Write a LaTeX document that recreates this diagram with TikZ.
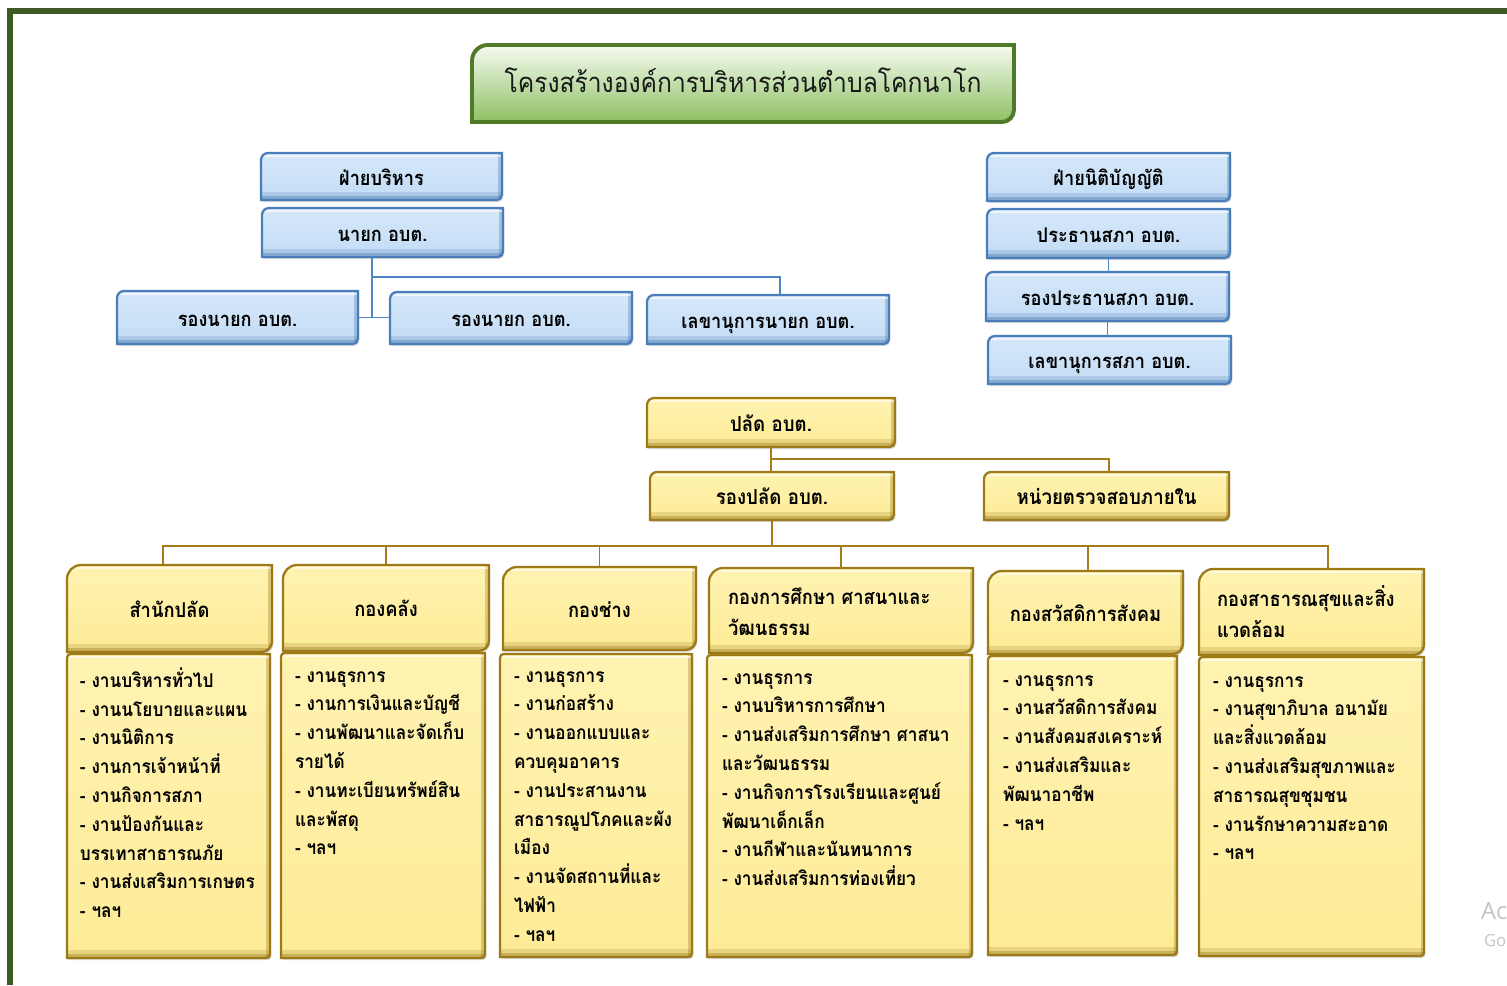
\documentclass[tikz,border=0pt]{standalone}
\usepackage{fontspec}
\newfontfamily\thaifont[Script=Thai, FakeStretch=0.9]{Loma}
\newfontfamily\wmfont{Open Sans}
\usetikzlibrary{backgrounds,shadows}
\definecolor{frameg}{HTML}{3D5A24}
\definecolor{titleborder}{HTML}{4F7A28}
\definecolor{titletop}{HTML}{F7FBF2}
\definecolor{titlebot}{HTML}{8DC063}
\definecolor{blueborder}{HTML}{4A7EBB}
\definecolor{bluetop}{HTML}{D6E8FA}
\definecolor{bluebot}{HTML}{C2DCF5}
\definecolor{bluedark}{HTML}{3A6EA8}
\definecolor{blueline}{HTML}{4F86C6}
\definecolor{yelborder}{HTML}{9C7A18}
\definecolor{yeltop}{HTML}{FFF3B2}
\definecolor{yelbot}{HTML}{FDEB96}
\definecolor{yeldark}{HTML}{8A6A10}
\definecolor{yelline}{HTML}{A47C1B}
\definecolor{wmgray}{HTML}{C4C4C4}
\newcommand\diagshape[4]{%
  \path[#2] (#1.south west) -- ([yshift=-#3]#1.north west)
    arc[start angle=180,end angle=90,radius=#3] -- (#1.north east)
    -- ([yshift=#4]#1.south east)
    arc[start angle=0,end angle=-90,radius=#4] -- cycle;}
\newcommand\fstrut{\rule{0pt}{10pt}}
\begin{document}
\begin{tikzpicture}[x=0.02cm,y=-0.02cm,
  every node/.style={inner sep=0pt, outer sep=0pt},
  sz/.style 2 args={minimum width={#1*0.02cm}, minimum height={#2*0.02cm}},
  lbl/.style={font=\thaifont\bfseries\fontsize{11.5}{14}\selectfont, text=black, text height=11.6pt, text depth=1.4pt},
  ylbl/.style={lbl, font=\thaifont\bfseries\fontsize{11.8}{14}\selectfont},
  hlbl/.style={lbl, font=\thaifont\bfseries\fontsize{11.6}{14}\selectfont},
  ttl/.style={font=\thaifont\fontsize{15.6}{18}\selectfont, text=black!90, text height=12pt, text depth=2pt},
  dtext/.style={font=\thaifont\bfseries\fontsize{10.9}{16.4}\selectfont, text=black, align=left, anchor=north west},
  htext/.style={font=\thaifont\bfseries\fontsize{11.6}{17.6}\selectfont, text=black, align=left, anchor=north west},
  shade/.style={drop shadow={opacity=0.3, shadow xshift=0.8pt, shadow yshift=-1.2pt}},
  bevel/.style={path picture={
    \fill[#1, opacity=0.45] (path picture bounding box.south west) rectangle ([yshift=2.5pt]path picture bounding box.south east);
    \fill[#1, opacity=0.18] ([yshift=2.5pt]path picture bounding box.south west) rectangle ([yshift=4.5pt]path picture bounding box.south east);
    \fill[#1, opacity=0.3] (path picture bounding box.south east) rectangle ([xshift=-2pt]path picture bounding box.north east);
    \fill[white, opacity=0.6] ([yshift=-1.4pt]path picture bounding box.north west) rectangle ([yshift=-2.4pt]path picture bounding box.north east);}},
  bshape/.style={draw=blueborder, line width=1.3pt, top color=bluetop, bottom color=bluebot, bevel=bluedark, shade},
  yshape/.style={draw=yelborder, line width=1.3pt, top color=yeltop, bottom color=yelbot, bevel=yeldark, shade},
  tshape/.style={draw=titleborder, line width=2.2pt, top color=titletop, bottom color=titlebot, shade},
  bline/.style={draw=blueline, line width=1.1pt},
  yline/.style={draw=yelline, line width=1.1pt},
  wm/.style={font=\wmfont, text=wmgray, anchor=west}
]
\useasboundingbox (0,0) rectangle (1507,985);
\fill[frameg] (6.5,8) rectangle (12.5,985);
\fill[frameg] (6.5,8) rectangle (1507,14);

% title
\node[ttl, sz={542}{77}] (title) at (743,83.5) {โครงสร้างองค์การบริหารส่วนตำบลโคกนาโก};

% executive (blue)
\node[lbl, sz={241}{47}] (bfai) at (381.5,176.5) {ฝ่ายบริหาร};
\node[lbl, sz={241}{49}] (bnayok) at (382.5,232.5) {นายก อบต.};
\node[lbl, sz={241}{53}] (brong1) at (237.5,317.5) {รองนายก อบต.};
\node[lbl, sz={242}{52}] (brong2) at (511,318) {รองนายก อบต.};
\node[lbl, sz={242}{49}] (blekha) at (768,319.5) {เลขานุการนายก อบต.};
% legislative (blue)
\node[lbl, sz={243}{48}] (bnitib) at (1108.5,177) {ฝ่ายนิติบัญญัติ};
\node[lbl, sz={243}{49}] (bprathan) at (1108.5,233.5) {ประธานสภา อบต.};
\node[lbl, sz={243}{49}] (brongpr) at (1107.5,296.5) {รองประธานสภา อบต.};
\node[lbl, sz={243}{48}] (blekhasapa) at (1109.5,360) {เลขานุการสภา อบต.};

% yellow top
\node[ylbl, sz={248}{49}] (ypalat) at (771,422.5) {ปลัด อบต.};
\node[ylbl, sz={244}{48}] (yrongpalat) at (772,496) {รองปลัด อบต.};
\node[ylbl, sz={245}{48}] (yaudit) at (1106.5,496) {หน่วยตรวจสอบภายใน};

% headers
\node[hlbl, sz={205}{87}] (h1) at (169.5,608.5) {สำนักปลัด};
\node[hlbl, sz={206}{86}] (h2) at (386,608) {กองคลัง};
\node[hlbl, sz={193}{83}] (h3) at (599.5,608.5) {กองช่าง};
\node[sz={264}{85}] (h4) at (841,610.5) {};
\node[hlbl, sz={195}{83}] (h5) at (1085.5,612.5) {กองสวัสดิการสังคม};
\node[sz={225}{86}] (h6) at (1311.5,612) {};
\node[htext] (h4t) at ([xshift=0.38cm,yshift=-0.37cm]h4.north west)
 {\fstrut กองการศึกษา ศาสนาและ\\วัฒนธรรม};
\node[htext] (h6t) at ([xshift=0.36cm,yshift=-0.33cm]h6.north west)
 {\fstrut กองสาธารณสุขและสิ่ง\\แวดล้อม};

% detail boxes
\node[sz={203}{304}] (d1) at (168.5,806) {};
\node[sz={204}{305}] (d2) at (383,805.5) {};
\node[sz={192}{303}] (d3) at (596,805.5) {};
\node[sz={265}{302}] (d4) at (839.5,806) {};
\node[sz={189}{299}] (d5) at (1082.5,805.5) {};
\node[sz={225}{299}] (d6) at (1311.5,806.5) {};

\node[dtext] (d1t) at ([xshift=0.26cm,yshift=-0.27cm]d1.north west)
 {\fstrut- งานบริหารทั่วไป\\- งานนโยบายและแผน\\- งานนิติการ\\- งานการเจ้าหน้าที่\\- งานกิจการสภา\\- งานป้องกันและ\\บรรเทาสาธารณภัย\\- งานส่งเสริมการเกษตร\\- ฯลฯ};
\node[dtext] (d2t) at ([xshift=0.28cm,yshift=-0.23cm]d2.north west)
 {\fstrut- งานธุรการ\\- งานการเงินและบัญชี\\- งานพัฒนาและจัดเก็บ\\รายได้\\- งานทะเบียนทรัพย์สิน\\และพัสดุ\\- ฯลฯ};
\node[dtext] (d3t) at ([xshift=0.28cm,yshift=-0.21cm]d3.north west)
 {\fstrut- งานธุรการ\\- งานก่อสร้าง\\- งานออกแบบและ\\ควบคุมอาคาร\\- งานประสานงาน\\สาธารณูปโภคและผัง\\เมือง\\- งานจัดสถานที่และ\\ไฟฟ้า\\- ฯลฯ};
\node[dtext] (d4t) at ([xshift=0.30cm,yshift=-0.23cm]d4.north west)
 {\fstrut- งานธุรการ\\- งานบริหารการศึกษา\\- งานส่งเสริมการศึกษา ศาสนา\\และวัฒนธรรม\\- งานกิจการโรงเรียนและศูนย์\\พัฒนาเด็กเล็ก\\- งานกีฬาและนันทนาการ\\- งานส่งเสริมการท่องเที่ยว};
\node[dtext] (d5t) at ([xshift=0.30cm,yshift=-0.25cm]d5.north west)
 {\fstrut- งานธุรการ\\- งานสวัสดิการสังคม\\- งานสังคมสงเคราะห์\\- งานส่งเสริมและ\\พัฒนาอาชีพ\\- ฯลฯ};
\node[dtext] (d6t) at ([xshift=0.28cm,yshift=-0.25cm]d6.north west)
 {\fstrut- งานธุรการ\\- งานสุขาภิบาล อนามัย\\และสิ่งแวดล้อม\\- งานส่งเสริมสุขภาพและ\\สาธารณสุขชุมชน\\- งานรักษาความสะอาด\\- ฯลฯ};

% watermark remnants
\node[wm, font=\wmfont\fontsize{13.5}{16}\selectfont] (wm1) at (1481,911) {Ac};
\node[wm, font=\wmfont\fontsize{9.5}{12}\selectfont] (wm2) at (1484,941) {Go};

\begin{pgfonlayer}{background}
  \diagshape{title}{tshape}{9pt}{7pt}
  \foreach \n in {bfai,bnayok,brong1,brong2,blekha,bnitib,bprathan,brongpr,blekhasapa}
    {\diagshape{\n}{bshape}{4pt}{3pt}}
  \foreach \n in {ypalat,yrongpalat,yaudit}
    {\diagshape{\n}{yshape}{4pt}{3pt}}
  \foreach \n in {h1,h2,h3,h4,h5,h6}
    {\diagshape{\n}{yshape}{8pt}{6pt}}
  \foreach \n in {d1,d2,d3,d4,d5,d6}
    {\diagshape{\n}{yshape}{2pt}{2pt}}
\end{pgfonlayer}

% blue connectors
\coordinate (nj) at (372,277);
\draw[bline] ([xshift=-0.21cm]bnayok.south) -- ([xshift=-0.21cm]bnayok.south |- brong1.east);
\draw[bline] (brong1.east) -- (brong2.west |- brong1.east);
\draw[bline] (nj) -| ([xshift=0.24cm]blekha.north);
\draw[bline] (bprathan.south) -- (bprathan.south |- brongpr.north);
\draw[bline] (brongpr.south) -- (brongpr.south |- blekhasapa.north);

% yellow connectors
\coordinate (pj) at (771,459);
\coordinate (bus) at (772,546);
\draw[yline] (ypalat.south) -- (ypalat.south |- yrongpalat.north);
\draw[yline] (pj) -| ([xshift=0.05cm]yaudit.north);
\draw[yline] (yrongpalat.south) -- (yrongpalat.south |- bus);
\draw[yline] ([xshift=-0.13cm]h1.north) |- (bus) -| ([xshift=0.33cm]h6.north);
\draw[yline] (h2.north) -- (h2.north |- bus);
\draw[yline] (h3.north) -- (h3.north |- bus);
\draw[yline] (h4.north) -- (h4.north |- bus);
\draw[yline] ([xshift=0.05cm]h5.north) -- ([xshift=0.05cm]h5.north |- bus);
\end{tikzpicture}
\end{document}
